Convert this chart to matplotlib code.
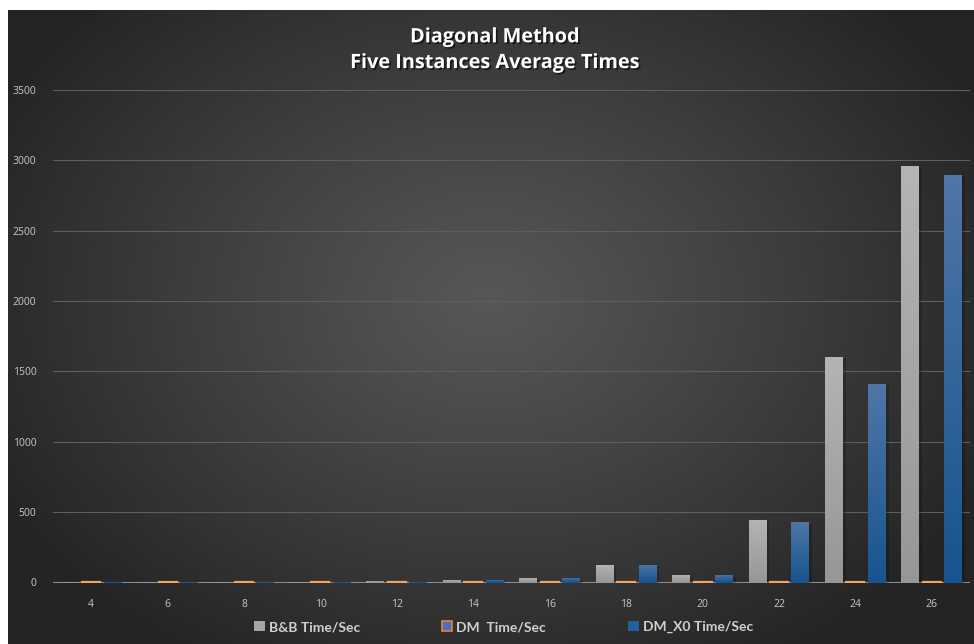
import numpy as np
import matplotlib
matplotlib.use("Agg")
import matplotlib.pyplot as plt
from matplotlib.patches import Patch
import matplotlib.patheffects as pe

# data
sizes = ['4', '6', '8', '10', '12', '14', '16', '18', '20', '22', '24', '26']
bb_time = [3, 3, 3, 4, 9, 17, 30, 123, 52, 443, 1603, 2962]
dm_time = [0.3, 0.3, 0.3, 0.3, 0.3, 0.3, 0.3, 0.3, 0.3, 0.3, 0.3, 0.3]
dmx0_time = [3, 3, 3, 4, 6, 16, 30, 123, 50, 428, 1411, 2898]
series_names = ['B&B Time/Sec', 'DM  Time/Sec', 'DM_X0 Time/Sec']

fig = plt.figure(figsize=(9.74, 6.44), dpi=100)
fig.patch.set_facecolor('white')

# radial-ish dark background (white strip at top and left like the original)
bg = fig.add_axes([8 / 974, 0, 966 / 974, 634 / 644])
bg.set_axis_off()
yy, xx = np.mgrid[0:634, 0:966]
cx, cy = 480, 290
d = np.sqrt(((xx - cx) / 560.0) ** 2 + ((yy - cy) / 420.0) ** 2)
d = np.clip(d, 0, 1)
lum = 0x57 - (0x57 - 0x24) * d ** 1.1
img = np.dstack([lum, lum, lum]) / 255.0
bg.imshow(img, aspect='auto', extent=[0, 1, 0, 1], origin='upper')

ax = fig.add_axes([53 / 974, (644 - 582.5) / 644, 917 / 974, 492.5 / 644])
ax.set_facecolor('none')

x = np.arange(len(sizes))
w = 0.235
off = 0.28

shadow = [pe.SimplePatchShadow(offset=(2, -1), shadow_rgbFace='black', alpha=0.2), pe.Normal()]


def gradient_bars(xpos, vals, top_col, bot_col):
    bars = ax.bar(xpos, vals, width=w, color=bot_col, zorder=4.5, linewidth=0)
    grad = np.linspace(0, 1, 64).reshape(-1, 1)
    top = np.array(matplotlib.colors.to_rgb(top_col))
    bot = np.array(matplotlib.colors.to_rgb(bot_col))
    cols = top[None, None, :] * (1 - grad[:, :, None]) + bot[None, None, :] * grad[:, :, None]
    for b in bars:
        b.set_path_effects(shadow)
        x0, y0 = b.get_x(), b.get_y()
        im = ax.imshow(cols, extent=[x0, x0 + b.get_width(), y0, y0 + b.get_height()],
                       aspect='auto', origin='upper', zorder=4.6)
        im.set_clip_path(b)
    return bars


gradient_bars(x - off, bb_time, '#b4b4b4', '#979797')
ax.bar(x, dm_time, width=w, color='#2e5f9a', edgecolor='#f4a460', linewidth=1.6, zorder=5)
gradient_bars(x + off, dmx0_time, '#4f76a6', '#18548f')

ax.set_xlim(-0.5, len(sizes) - 0.5)
ax.set_ylim(0, 3500)
ax.set_yticks(np.arange(0, 3501, 500))
ax.set_xticks(x)
ax.set_xticklabels(sizes)
ax.grid(axis='y', color='#5e5e5e', linewidth=0.8, zorder=0)
ax.axhline(0, color='#8c8c8c', linewidth=1.5, zorder=4)
for s in ax.spines.values():
    s.set_visible(False)
ax.tick_params(axis='both', length=0, colors='#c8c8c8', labelsize=7.5)
ax.tick_params(axis='x', pad=12)
ax.tick_params(axis='y', pad=12)
for lab in ax.get_xticklabels() + ax.get_yticklabels():
    lab.set_fontfamily('Open Sans')

title_fx = [pe.withSimplePatchShadow(offset=(1.2, -1.2), shadow_rgbFace='black', alpha=0.6)]
fig.text(0.508, 0.942, 'Diagonal Method', ha='center', va='center', color='white',
         fontsize=14.3, fontweight='bold', family='Open Sans', path_effects=title_fx)
fig.text(0.508, 0.902, 'Five Instances Average Times', ha='center', va='center', color='white',
         fontsize=14.3, fontweight='bold', family='Open Sans', path_effects=title_fx)

handles = [Patch(facecolor='#a6a6a6', edgecolor='none'),
           Patch(facecolor='#4472c4', edgecolor='#ed7d31', linewidth=1.2),
           Patch(facecolor='#24609e', edgecolor='none')]
leg = fig.legend(handles, series_names, loc='center', bbox_to_anchor=(0.517, 0.026), ncol=3,
                 frameon=False, handlelength=0.75, handleheight=0.75, handletextpad=0.3,
                 columnspacing=5.9, prop={'family': 'Lato', 'weight': 'bold', 'size': 10})
for t in leg.get_texts():
    t.set_color('#d0d0d0')

fig.savefig('out.png', dpi=100, facecolor='white')
